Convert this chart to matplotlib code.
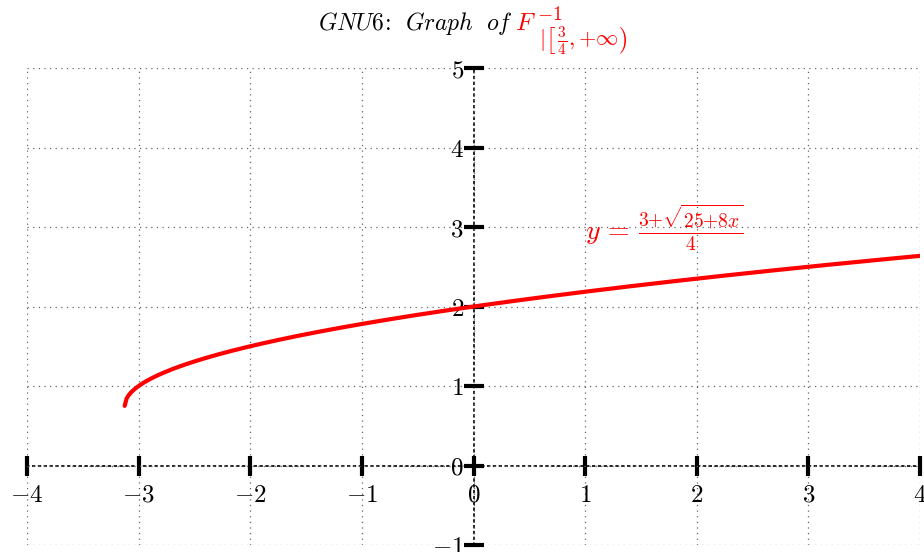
import numpy as np
import matplotlib
matplotlib.use("Agg")
import matplotlib.pyplot as plt

plt.rcParams["mathtext.fontset"] = "cm"
plt.rcParams["font.family"] = "serif"
plt.rcParams["font.serif"] = ["DejaVu Serif"]

# Axis range and ticks
X_TICKS = [-4, -3, -2, -1, 0, 1, 2, 3, 4]
Y_TICKS = [-1, 0, 1, 2, 3, 4, 5]
X_TICK_LABELS = ["$-4$", "$-3$", "$-2$", "$-1$", "$0$", "$1$", "$2$", "$3$", "$4$"]
Y_TICK_LABELS = ["$-1$", "$0$", "$1$", "$2$", "$3$", "$4$", "$5$"]

# Curve y = (3 + sqrt(25 + 8x)) / 4, defined for x >= -25/8
X_START = -25 / 8
X_END = 4.0
N_POINTS = 400

x = np.linspace(X_START, X_END, N_POINTS)
y = (3 + np.sqrt(25 + 8 * x)) / 4

fig = plt.figure(figsize=(9.24, 5.52), dpi=100)
ax = fig.add_axes([0.0292, 0.0127, 0.9665, 0.864])

ax.set_xlim(-4, 4)
ax.set_ylim(-1, 5)

# dotted grid at every integer
ax.set_xticks(X_TICKS)
ax.set_yticks(Y_TICKS)
ax.grid(True, color="0.4", linestyle=(0, (1, 3.5)), linewidth=0.9)

# axes through the origin, drawn dotted
for side in ["top", "right"]:
    ax.spines[side].set_visible(False)
ax.spines["left"].set_position(("data", 0))
ax.spines["bottom"].set_position(("data", 0))
for side in ["left", "bottom"]:
    ax.spines[side].set_linestyle((0, (1, 2.5)))
    ax.spines[side].set_linewidth(1.2)
    ax.spines[side].set_zorder(1.5)

ax.set_xticklabels(X_TICK_LABELS, fontsize=18)
ax.set_yticklabels(Y_TICK_LABELS, fontsize=18)
ax.tick_params(axis="x", direction="inout", length=14, width=3, pad=6)
ax.tick_params(axis="y", direction="inout", length=14, width=3, pad=0)

ax.plot(x, y, color="red", linewidth=3, solid_capstyle="round", zorder=3)

ax.text(1.0, 3.0, r"$y\,=\,\frac{3{+}\sqrt{25{+}8x}}{4}$", color="red",
        fontsize=20, ha="left", va="center")

# title in two colours
fig.text(0.555, 0.946, r"$\mathit{GNU6\!:\!\ \ Graph\ \ of}$", color="black",
         fontsize=17, ha="right", va="baseline")
fig.text(0.557, 0.946, r"$F$", color="red", fontsize=18,
         ha="left", va="baseline")
fig.text(0.581, 0.964, r"$-1$", color="red", fontsize=14,
         ha="left", va="baseline")
fig.text(0.583, 0.918, r"$|\left[\,\frac{3}{4},{+}\infty\right)$", color="red",
         fontsize=16, ha="left", va="baseline")

fig.savefig("out.png", dpi=100)
plt.close(fig)
